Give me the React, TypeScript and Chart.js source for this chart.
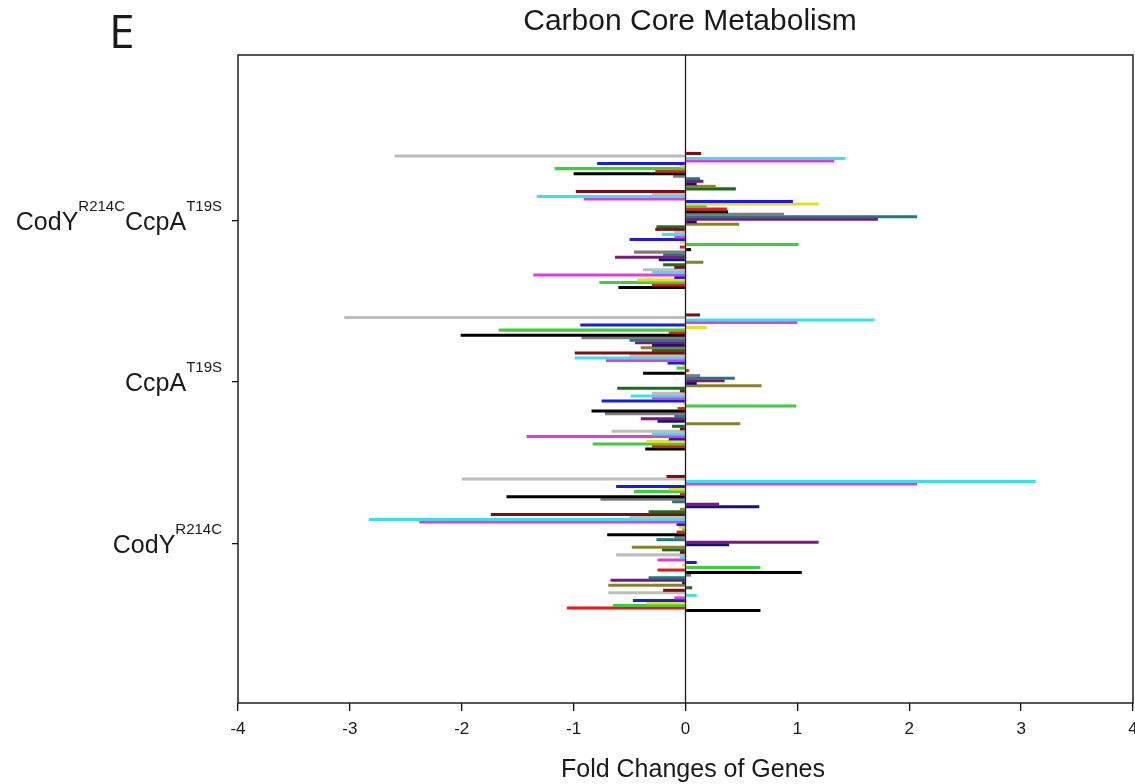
import React, { useEffect, useRef } from 'react';
import { Chart, registerables } from 'chart.js';

Chart.register(...registerables);

// Category labels (top to bottom); "^{...}" marks a superscript.
const categories = ['CodY^{R214C}CcpA^{T19S}', 'CcpA^{T19S}', 'CodY^{R214C}'];
const categoryPositions = [1, 2, 3];

const chartTitle = 'Carbon Core Metabolism';
const panelLetter = 'E';
const xAxisTitle = 'Fold Changes of Genes';
const xMin = -4;
const xMax = 4;

// Fold changes per gene, gene 1 (bottom bar of each group) to gene 54 (top bar).
const comboValues = [
  -0.6, -0.3, -0.77, -0.43, -0.1, -1.36, -0.3, -0.38, -0.1, -0.2, 0.16, -0.24, -0.63, -0.2, -0.46,
  0.05, -0.05, 1.01, -0.05, -0.5, -0.1, -0.21, -0.1, -0.27, -0.26, 0.48, 0.1, 1.72, 2.07, 0.88,
  0.38, 0.37, 0.19, 1.19, 0.96, -0.91, -1.33, -0.3, -0.98, 0.45, 0.27, 0.1, 0.16, 0.13, -0.11,
  -1.0, -0.27, -1.17, -0.05, -0.79, 1.33, 1.43, -2.6, 0.14,
];

const ccpaValues = [
  -0.36, -0.3, -0.83, -0.35, -0.15, -1.42, -0.3, -0.66, -0.05, -0.12, 0.49, -0.25, -0.4, -0.1, -0.72,
  -0.84, -0.07, 0.99, -0.02, -0.75, -0.3, -0.49, -0.3, -0.05, -0.61, 0.68, 0.1, 0.35, 0.44, 0.13,
  -0.38, 0.03, -0.08, -0.03, -0.16, -0.71, -0.99, -0.5, -0.99, -0.3, -0.4, -0.3, -0.45, -0.5, -0.93,
  -2.01, -0.15, -1.67, 0.19, -0.94, 1.0, 1.69, -3.05, 0.13,
];

const codyValues = [
  0.67, -1.06, -0.65, -0.35, -0.47, -0.1, 0.1, -0.69, -0.2, 0.06, -0.69, -0.03, -0.67, -0.33, 0.05,
  1.04, -0.25, 0.67, -0.03, 0.1, -0.25, -0.05, -0.62, -0.05, -0.21, -0.48, 0.39, 1.19, -0.26, -0.1,
  -0.7, -0.08, -0.03, -0.06, -0.08, -2.38, -2.83, -0.5, -1.74, -0.33, -0.05, 0.66, 0.3, -0.12, -0.76,
  -1.6, -0.05, -0.46, -0.15, -0.62, 2.07, 3.13, -2.0, -0.17,
];

// Incrementing colour scheme, applied from gene 1 upwards.
const palette = [
  '#000000', '#e8161c', '#3ccf3c', '#e6df1e', '#1c1cdc', '#e03ce0', '#38e2ea', '#bdbdbd',
  '#7c1010', '#1f6a1f', '#8a8228', '#12127e', '#781a78', '#1f7880', '#7c7c7c',
];

const FONT = '"Liberation Sans", Arial, Helvetica, sans-serif';

function drawRichLabel(ctx: CanvasRenderingContext2D, text: string, right: number, baseline: number) {
  const parts: { t: string; sup: boolean }[] = [];
  const re = /\^\{([^}]*)\}|([^^]+)/g;
  let m: RegExpExecArray | null;
  while ((m = re.exec(text)) !== null) {
    if (m[1] !== undefined) parts.push({ t: m[1], sup: true });
    else parts.push({ t: m[2], sup: false });
  }
  const mainFont = `25px ${FONT}`;
  const supFont = `15px ${FONT}`;
  let total = 0;
  const widths = parts.map((p) => {
    ctx.font = p.sup ? supFont : mainFont;
    const w = ctx.measureText(p.t).width;
    total += w;
    return w;
  });
  let x = right - total;
  ctx.textAlign = 'left';
  ctx.textBaseline = 'alphabetic';
  parts.forEach((p, i) => {
    ctx.font = p.sup ? supFont : mainFont;
    ctx.fillText(p.t, x, p.sup ? baseline - 19 : baseline);
    x += widths[i];
  });
}

export default function App() {
  const ref = useRef<HTMLCanvasElement | null>(null);

  useEffect(() => {
    if (!ref.current) return;
    const n = comboValues.length;
    const datasets: any[] = [];
    for (let i = n - 1; i >= 0; i--) {
      datasets.push({
        label: 'gene ' + (i + 1),
        data: [
          { x: comboValues[i], y: categoryPositions[0] },
          { x: ccpaValues[i], y: categoryPositions[1] },
          { x: codyValues[i], y: categoryPositions[2] },
        ],
        backgroundColor: palette[i % palette.length],
        borderWidth: 0,
        categoryPercentage: 0.846,
        barPercentage: 1.2,
      });
    }

    const decor = {
      id: 'decor',
      afterDatasetsDraw(chart: any) {
        const { ctx, chartArea } = chart;
        const x0 = chart.scales.x.getPixelForValue(0);
        ctx.save();
        ctx.strokeStyle = '#1a1a1a';
        ctx.lineWidth = 1.3;
        ctx.beginPath();
        ctx.moveTo(x0, chartArea.top);
        ctx.lineTo(x0, chartArea.bottom);
        ctx.stroke();
        ctx.restore();
      },
      afterDraw(chart: any) {
        const { ctx, chartArea } = chart;
        ctx.save();
        ctx.strokeStyle = '#111';
        ctx.lineWidth = 1.4;
        ctx.strokeRect(chartArea.left, chartArea.top, chartArea.right - chartArea.left, chartArea.bottom - chartArea.top);
        ctx.fillStyle = '#1a1a1a';
        ctx.font = `30px ${FONT}`;
        ctx.textAlign = 'center';
        ctx.textBaseline = 'alphabetic';
        ctx.fillText(chartTitle, 690, 30);
        ctx.font = `46px "Open Sans", ${FONT}`;
        ctx.textAlign = 'left';
        ctx.fillText(panelLetter, 109, 48);
        ctx.font = `25px ${FONT}`;
        ctx.textAlign = 'center';
        ctx.fillText(xAxisTitle, 693, 777);
        const y = chart.scales.y;
        categories.forEach((c, k) => {
          const py = y.getPixelForValue(categoryPositions[k]);
          drawRichLabel(ctx, c, 222, py + 9);
        });
        ctx.restore();
      },
    };

    const chart = new Chart(ref.current, {
      type: 'bar',
      data: { datasets },
      options: {
        animation: false,
        responsive: false,
        indexAxis: 'y',
        layout: { padding: { top: 55, right: 27, bottom: 0, left: 0 } },
        plugins: {
          legend: { display: false },
          tooltip: { enabled: false },
          title: { display: false },
        },
        scales: {
          x: {
            type: 'linear',
            min: xMin,
            max: xMax,
            ticks: {
              stepSize: 1,
              font: { family: FONT, size: 17 },
              color: '#1a1a1a',
              padding: 8,
            },
            grid: {
              drawOnChartArea: false,
              drawTicks: true,
              tickLength: 8,
              color: '#111',
              lineWidth: 1.3,
            },
            border: { display: false },
            afterFit: (s: any) => {
              s.height = 81;
            },
          },
          y: {
            type: 'linear',
            reverse: true,
            offset: false,
            min: -0.0248,
            max: 3.9876,
            afterBuildTicks: (s: any) => {
              s.ticks = categoryPositions.map((v) => ({ value: v }));
            },
            ticks: { display: false },
            grid: {
              offset: false,
              drawOnChartArea: false,
              drawTicks: true,
              tickLength: 6,
              lineWidth: 1.3,
              color: '#111',
            },
            border: { display: false },
            afterFit: (s: any) => {
              s.width = 238;
            },
          },
        },
      } as any,
      plugins: [decor],
    });
    return () => chart.destroy();
  }, []);

  return (
    <div
      style={{
        position: 'absolute',
        left: 0,
        top: 0,
        width: 1135,
        height: 784,
        overflow: 'hidden',
        background: '#fff',
      }}
    >
      <canvas ref={ref} width={1160} height={784} style={{ display: 'block' }} />
    </div>
  );
}
